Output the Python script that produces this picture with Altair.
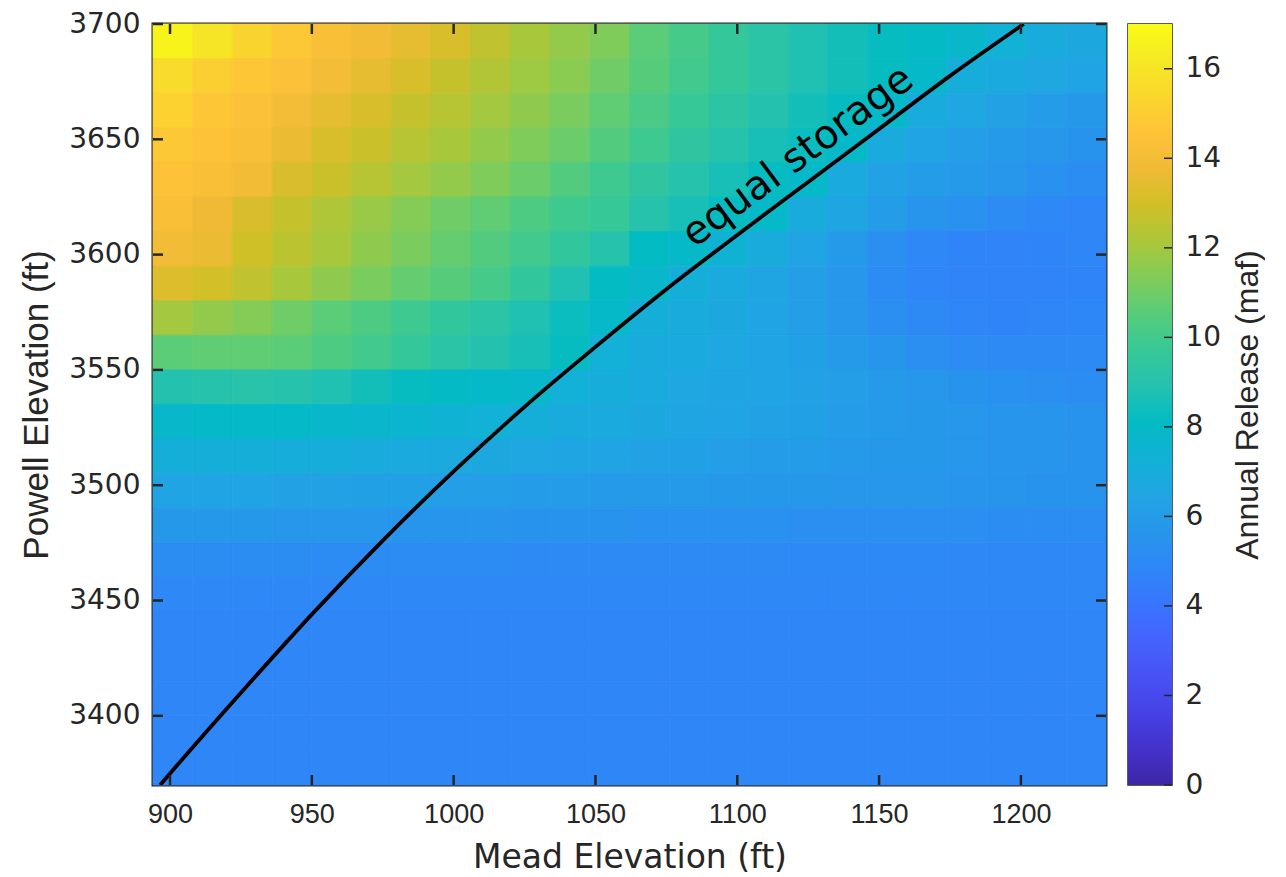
import altair as alt
import pandas as pd

# ---------------- data ----------------
# cell edges (Mead elevation, ft) left -> right
mead_edges = [894, 908, 922, 936, 950, 964, 978, 992, 1006, 1020, 1034, 1048, 1062,
              1076, 1090, 1104, 1118, 1132, 1146, 1160, 1174, 1188, 1202, 1216, 1230]
# cell edges (Powell elevation, ft) top -> bottom
powell_edges = [3700, 3685, 3670, 3655, 3640, 3625, 3610, 3595, 3580, 3565, 3550, 3535,
                3520, 3505, 3490, 3475, 3460, 3445, 3430, 3415, 3400, 3385, 3370]

# annual release (maf), one row per Powell band, top -> bottom
release = [
    [16.7, 16.0, 15.3, 14.8, 14.3, 13.9, 13.5, 13.1, 12.6, 12.1, 11.7, 11.3, 10.6, 10.1, 9.6, 9.2, 8.8, 8.5, 8.2, 8.0, 7.8, 7.3, 6.9, 6.7],
    [15.6, 15.1, 14.7, 14.4, 14.0, 13.5, 13.1, 12.7, 12.3, 11.9, 11.5, 11.0, 10.5, 10.0, 9.6, 9.2, 8.8, 8.5, 8.2, 7.9, 7.0, 6.8, 6.6, 6.4],
    [15.2, 14.7, 14.4, 14.0, 13.5, 13.1, 12.7, 12.4, 12.0, 11.6, 11.2, 10.7, 10.2, 9.7, 9.3, 8.9, 8.5, 8.2, 7.9, 6.9, 6.6, 6.3, 6.0, 5.8],
    [14.8, 14.5, 14.2, 13.6, 13.1, 12.8, 12.4, 12.1, 11.7, 11.3, 10.9, 10.4, 9.9, 9.4, 9.0, 8.6, 8.3, 7.9, 6.8, 6.4, 6.1, 5.9, 5.7, 5.5],
    [14.5, 14.2, 13.9, 13.2, 12.8, 12.4, 12.0, 11.7, 11.3, 10.9, 10.4, 9.9, 9.4, 9.0, 8.6, 8.2, 7.9, 6.8, 6.3, 6.0, 5.9, 5.7, 5.4, 5.2],
    [14.2, 13.8, 13.2, 12.7, 12.2, 11.8, 11.4, 11.0, 10.7, 10.3, 9.9, 9.7, 9.0, 8.6, 8.2, 7.9, 6.9, 6.5, 6.0, 5.6, 5.4, 5.1, 4.9, 4.8],
    [13.9, 13.6, 12.9, 12.5, 12.1, 11.6, 11.2, 10.8, 10.4, 10.0, 9.5, 9.0, 8.1, 7.9, 7.4, 6.9, 6.4, 5.9, 5.3, 4.9, 4.75, 4.7, 4.75, 4.8],
    [13.3, 13.0, 12.6, 12.1, 11.6, 11.2, 10.8, 10.5, 10.1, 9.5, 8.8, 8.1, 7.8, 7.1, 6.8, 6.5, 6.1, 5.7, 5.1, 4.8, 4.7, 4.7, 4.7, 4.75],
    [12.0, 11.7, 11.4, 11.0, 10.6, 10.3, 9.9, 9.5, 9.2, 8.8, 8.3, 7.9, 7.1, 6.9, 6.7, 6.4, 6.1, 5.7, 5.3, 5.0, 4.8, 4.75, 4.8, 4.85],
    [10.6, 10.7, 10.7, 10.6, 10.3, 10.0, 9.6, 9.2, 8.9, 8.6, 8.2, 7.2, 6.9, 6.8, 6.6, 6.4, 6.2, 5.9, 5.6, 5.3, 5.1, 5.0, 5.0, 5.0],
    [8.9, 9.0, 9.1, 9.0, 8.8, 8.5, 8.2, 8.0, 7.9, 7.8, 7.2, 7.0, 6.8, 6.6, 6.5, 6.4, 6.3, 6.1, 5.9, 5.7, 5.5, 5.4, 5.3, 5.2],
    [7.8, 7.9, 7.9, 7.9, 7.8, 7.7, 7.6, 7.4, 7.3, 7.1, 6.9, 6.8, 6.7, 6.5, 6.4, 6.3, 6.2, 6.0, 5.9, 5.8, 5.7, 5.6, 5.6, 5.5],
    [7.1, 7.1, 7.1, 7.0, 7.0, 6.9, 6.8, 6.8, 6.7, 6.6, 6.5, 6.4, 6.3, 6.2, 6.1, 6.0, 6.0, 5.9, 5.8, 5.8, 5.7, 5.6, 5.6, 5.5],
    [6.4, 6.4, 6.4, 6.3, 6.3, 6.2, 6.2, 6.1, 6.1, 6.0, 6.0, 5.9, 5.9, 5.9, 5.8, 5.8, 5.8, 5.7, 5.7, 5.7, 5.6, 5.6, 5.5, 5.5],
    [5.8, 5.8, 5.8, 5.7, 5.7, 5.7, 5.6, 5.6, 5.6, 5.5, 5.5, 5.5, 5.4, 5.4, 5.4, 5.4, 5.3, 5.3, 5.3, 5.3, 5.3, 5.2, 5.2, 5.2],
    [5.2, 5.2, 5.2, 5.2, 5.1, 5.1, 5.1, 5.1, 5.1, 5.0, 5.0, 5.0, 5.0, 5.0, 5.0, 5.0, 4.95, 4.95, 4.95, 4.95, 4.9, 4.9, 4.9, 4.9],
    [4.9, 4.9, 4.9, 4.9, 4.9, 4.9, 4.9, 4.9, 4.9, 4.9, 4.9, 4.9, 4.9, 4.9, 4.9, 4.9, 4.9, 4.9, 4.9, 4.9, 4.9, 4.9, 4.9, 4.9],
    [4.8, 4.8, 4.8, 4.8, 4.8, 4.8, 4.8, 4.8, 4.8, 4.8, 4.8, 4.8, 4.8, 4.8, 4.8, 4.8, 4.8, 4.8, 4.8, 4.8, 4.8, 4.8, 4.8, 4.8],
    [4.8, 4.8, 4.8, 4.8, 4.8, 4.8, 4.8, 4.8, 4.8, 4.8, 4.8, 4.8, 4.8, 4.8, 4.8, 4.8, 4.8, 4.8, 4.8, 4.8, 4.8, 4.8, 4.8, 4.8],
    [4.8, 4.8, 4.8, 4.8, 4.8, 4.8, 4.8, 4.8, 4.8, 4.8, 4.8, 4.8, 4.8, 4.8, 4.8, 4.8, 4.8, 4.8, 4.8, 4.8, 4.8, 4.8, 4.8, 4.8],
    [4.8, 4.8, 4.8, 4.8, 4.8, 4.8, 4.8, 4.8, 4.8, 4.8, 4.8, 4.8, 4.8, 4.8, 4.8, 4.8, 4.8, 4.8, 4.8, 4.8, 4.8, 4.8, 4.8, 4.8],
    [4.8, 4.8, 4.8, 4.8, 4.8, 4.8, 4.8, 4.8, 4.8, 4.8, 4.8, 4.8, 4.8, 4.8, 4.8, 4.8, 4.8, 4.8, 4.8, 4.8, 4.8, 4.8, 4.8, 4.8],
]

# equal-storage curve
eq_mead = [896.5, 900, 925, 950, 975, 1000, 1025, 1050, 1075, 1100, 1125, 1150, 1175, 1201]
eq_powell = [3370, 3375, 3410, 3444, 3476, 3506, 3534, 3560, 3585, 3608.5, 3631.5, 3654.5, 3677.5, 3700]
label_text = "equal storage"
label_mead = 1127
label_powell = 3633

x_ticks = [900, 950, 1000, 1050, 1100, 1150, 1200]
y_ticks = [3400, 3450, 3500, 3550, 3600, 3650, 3700]
cb_ticks = [0, 2, 4, 6, 8, 10, 12, 14, 16]

# parula colormap stops
parula = ["#3E26A8", "#4432CB", "#4741E5", "#4852F4", "#4563FD", "#3875FE", "#2E87F7",
          "#2796EB", "#20A5E3", "#12B1D6", "#02BBC3", "#24C1AF", "#37C897", "#57CC7A",
          "#81CC59", "#ABC739", "#D1BF27", "#F0BA36", "#FEC338", "#FAD62D", "#F5E924", "#F9FB15"]

# ---------------- build tables ----------------
rows = []
for i, row in enumerate(release):
    for j, v in enumerate(row):
        rows.append({"x0": mead_edges[j], "x1": mead_edges[j + 1],
                     "y0": powell_edges[i], "y1": powell_edges[i + 1], "release": v})
cells = pd.DataFrame(rows)

TXT = "#262626"
FONT = "Liberation Sans"
FONT_H = "DejaVu Sans"
W, H = 953, 761
CW = 44

xscale = alt.Scale(domain=[894, 1230], nice=False, zero=False)
yscale = alt.Scale(domain=[3370, 3700], nice=False, zero=False)
cscale = alt.Scale(domain=[0, 17], range=parula, interpolate="rgb")

x_axis = alt.Axis(values=x_ticks, format="d", title="Mead Elevation (ft)",
                  ticks=False, domain=False, grid=False,
                  labelFont=FONT, labelFontSize=27, labelColor=TXT, labelPadding=16,
                  titleFont=FONT_H, titleFontSize=33, titleFontWeight="normal",
                  titleColor=TXT, titlePadding=14)
y_axis = alt.Axis(values=y_ticks, format="d", title="Powell Elevation (ft)",
                  ticks=False, domain=False, grid=False,
                  labelFont=FONT_H, labelFontSize=28, labelColor=TXT, labelPadding=13,
                  titleFont=FONT, titleFontSize=35, titleFontWeight="normal",
                  titleColor=TXT, titlePadding=14)

heat = alt.Chart(cells).mark_rect(strokeWidth=0.8).encode(
    x=alt.X("x0:Q", scale=xscale, axis=x_axis),
    x2="x1:Q",
    y=alt.Y("y0:Q", scale=yscale, axis=y_axis),
    y2="y1:Q",
    color=alt.Color("release:Q", scale=cscale, legend=None),
    stroke=alt.Stroke("release:Q", scale=cscale, legend=None),
)

eq = alt.Chart(pd.DataFrame({"mead": eq_mead, "powell": eq_powell})).mark_line(
    color="black", strokeWidth=3.8, clip=True, interpolate="monotone"
).encode(
    x=alt.X("mead:Q", scale=xscale, axis=x_axis),
    y=alt.Y("powell:Q", scale=yscale, axis=y_axis),
)

lab = alt.Chart(pd.DataFrame({"mead": [label_mead], "powell": [label_powell], "t": [label_text]})).mark_text(
    angle=323.5, font=FONT_H, fontSize=40, align="center", baseline="alphabetic", dy=-15, color="black"
).encode(
    x=alt.X("mead:Q", scale=xscale, axis=x_axis),
    y=alt.Y("powell:Q", scale=yscale, axis=y_axis),
    text="t:N",
)

xt = pd.DataFrame({"v": x_ticks})
yt = pd.DataFrame({"v": y_ticks})
tick = dict(color=TXT, strokeWidth=2.5)
bx = alt.Chart(xt).mark_rule(**tick).encode(x=alt.X("v:Q", scale=xscale, axis=x_axis), y=alt.value(H), y2=alt.value(H - 10))
tx = alt.Chart(xt).mark_rule(**tick).encode(x=alt.X("v:Q", scale=xscale, axis=x_axis), y=alt.value(0), y2=alt.value(10))
ly = alt.Chart(yt).mark_rule(**tick).encode(y=alt.Y("v:Q", scale=yscale, axis=y_axis), x=alt.value(0), x2=alt.value(10))
ry = alt.Chart(yt).mark_rule(**tick).encode(y=alt.Y("v:Q", scale=yscale, axis=y_axis), x=alt.value(W), x2=alt.value(W - 10))

main = alt.layer(heat, eq, lab, bx, tx, ly, ry).properties(
    width=W, height=H, view=alt.ViewBackground(stroke=TXT, strokeWidth=3)
)

# ---------------- colorbar ----------------
grad = alt.LinearGradient(
    gradient="linear",
    stops=[alt.GradientStop(color=c, offset=i / (len(parula) - 1)) for i, c in enumerate(parula)],
    x1=0, x2=0, y1=1, y2=0,
)
cbscale = alt.Scale(domain=[0, 17], nice=False, zero=False)
cb_axis = alt.Axis(orient="right", values=cb_ticks, ticks=False, domain=False, grid=False,
                   labelFont=FONT_H, labelFontSize=28, labelColor=TXT, labelPadding=13,
                   title="Annual Release (maf)", titleFont=FONT, titleFontSize=32,
                   titleFontWeight="normal", titleColor=TXT, titleAngle=270,
                   titleBaseline="top", titlePadding=12)
cb_rect = alt.Chart(pd.DataFrame({"lo": [0], "hi": [17]})).mark_rect(fill=grad).encode(
    x=alt.value(0), x2=alt.value(CW),
    y=alt.Y("hi:Q", scale=cbscale, axis=cb_axis),
    y2="lo:Q",
)
cb_tick = alt.Chart(pd.DataFrame({"v": cb_ticks})).mark_rule(color=TXT, strokeWidth=1.5).encode(
    y=alt.Y("v:Q", scale=cbscale, axis=cb_axis), x=alt.value(CW), x2=alt.value(CW - 8)
)
cbar = alt.layer(cb_rect, cb_tick).properties(
    width=CW, height=H, view=alt.ViewBackground(stroke=TXT, strokeWidth=1.5)
)

chart = alt.hconcat(main, cbar, spacing=22, bounds="flush").properties(
    padding={"left": 18, "top": 8, "right": 0, "bottom": 0},
    background="white",
)

chart.save("out.html", embed_options={"renderer": "svg", "actions": False})
